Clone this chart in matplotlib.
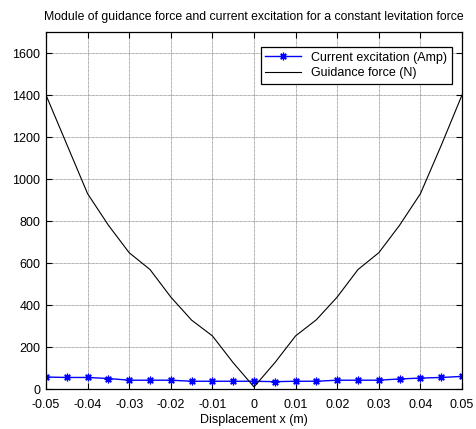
import numpy as np
import matplotlib.pyplot as plt

plt.rcParams['font.family'] = ['Liberation Sans', 'DejaVu Sans']

# Displacement, m
disp = [-0.05, -0.045, -0.04, -0.035, -0.03, -0.025, -0.02, -0.015, -0.01, -0.005, 0.0,
        0.005, 0.01, 0.015, 0.02, 0.025, 0.03, 0.035, 0.04, 0.045, 0.05]
# Current excitation, A
current = [57, 55, 55, 50, 42, 42, 42, 37, 37, 37, 37,
           35, 37, 37, 42, 42, 42, 48, 52, 55, 60]
# Guidance force, N
guidance = [1400, 1165, 930, 780, 649, 569, 438, 328, 253, 125, 10,
            125, 253, 330, 438, 569, 649, 780, 930, 1160, 1400]

fig = plt.figure(figsize=(4.77, 4.29), dpi=100)
ax = fig.add_axes([0.0964, 0.0932, 0.8722, 0.8322])

ax.plot(disp, current, '-', color='blue', lw=1.0, marker=(8, 2, 0), ms=5.5, mew=0.9,
        label='Current excitation (Amp)')
ax.plot(disp, guidance, '-', color='black', lw=0.8, label='Guidance force (N)')

ax.set_xlim(-0.05, 0.05)
ax.set_ylim(0, 1700)
ax.set_xticks(np.arange(-0.05, 0.0501, 0.01))
ax.set_xticklabels(['-0.05', '-0.04', '-0.03', '-0.02', '-0.01', '0',
                    '0.01', '0.02', '0.03', '0.04', '0.05'])
ax.set_yticks(range(0, 1601, 200))
ax.tick_params(direction='in', labelsize=9, length=4, top=True, right=True)
ax.tick_params(axis='x', pad=7)
ax.tick_params(axis='y', pad=4)
ax.grid(True, color='0.55', linestyle=(0, (1, 0.6)), lw=0.6)
for s in ax.spines.values():
    s.set_linewidth(0.9)

ax.set_xlabel('Displacement x (m)', fontsize=9, labelpad=2)
ax.set_title('Module of guidance force and current excitation for a constant levitation force',
             fontsize=8.8, pad=9)

leg = ax.legend(loc='upper right', fontsize=9, fancybox=False, framealpha=1,
                edgecolor='black', borderpad=0.35, labelspacing=0.3,
                handlelength=2.9, bbox_to_anchor=(0.99, 0.975))
leg.get_frame().set_linewidth(0.9)

fig.savefig('out.png', dpi=100)
